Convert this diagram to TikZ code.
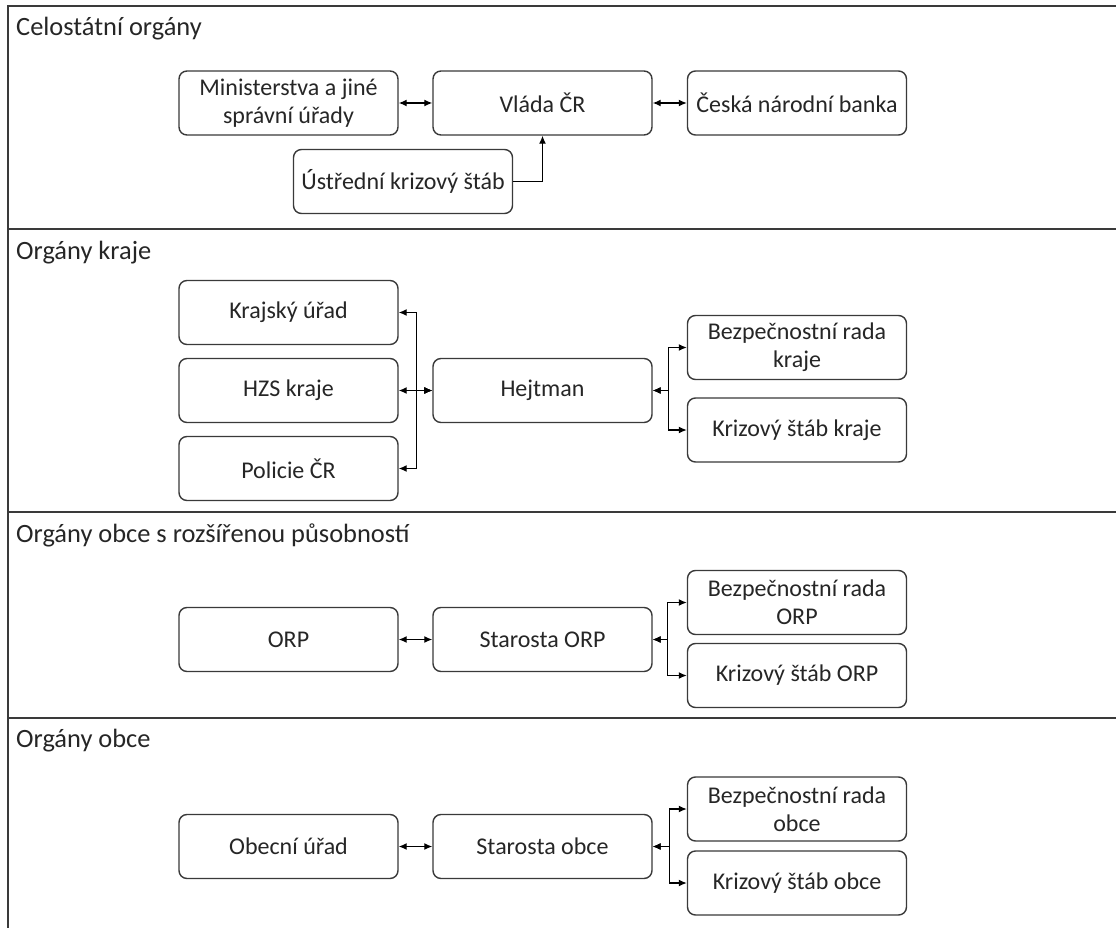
\documentclass[tikz,border=0pt]{standalone}
\usepackage{fontspec}
\setmainfont{Carlito}
\usetikzlibrary{arrows.meta}

\definecolor{ink}{HTML}{262626}
\definecolor{edge}{HTML}{3A3A3A}

\tikzset{
  box/.style={draw=edge, line width=1.4pt, rounded corners=8pt,
    minimum width=219pt, minimum height=64pt, inner sep=2pt,
    align=center, text=ink,
    font=\fontsize{24}{28}\selectfont},
  head/.style={anchor=base west, inner sep=0pt, text=ink,
    font=\fontsize{26.4}{30}\selectfont},
  frame/.style={draw=edge, line width=2pt},
  link/.style={draw=black, line width=1.3pt},
  tip/.tip={Latex[length=8pt,width=7pt]},
  both/.style={link, tip-tip},
  to/.style={link, -tip}
}

\begin{document}
\begin{tikzpicture}[x=1pt, y=-1pt]
\useasboundingbox (0,0) rectangle (1116,928);
\fill[white] (0,0) rectangle (1116,928);

% frame and band dividers
\draw[frame] (8,928) -- (8,6) -- (1116,6);
\draw[frame] (8,229) -- (1116,229);
\draw[frame] (8,512) -- (1116,512);
\draw[frame] (8,718) -- (1116,718);

% band titles
\node[head] (h1) at (16,36) {Celostátní orgány};
\node[head] (h2) at (16,259) {Orgány kraje};
\node[head] (h3) at (16,542) {Orgány obce s rozšířenou působností};
\node[head] (h4) at (16,747) {Orgány obce};

% national level
\node[box] (min)  at (288.5,103)  {Ministerstva a jiné\\správní úřady};
\node[box] (vlada) at (542.5,103) {Vláda ČR};
\node[box] (cnb)  at (797,103)    {Česká národní banka};
\node[box] (uks)  at (403,181.5)  {Ústřední krizový štáb};
\draw[both] (min) -- (vlada);
\draw[both] (vlada) -- (cnb);
\draw[to] (uks.east) -| (vlada.south);

% region level
\node[box] (kru)  at (288.5,312.5) {Krajský úřad};
\node[box] (hzs)  at (288.5,390.5) {HZS kraje};
\node[box] (pol)  at (288.5,468.5) {Policie ČR};
\node[box] (hejt) at (542.5,390.5) {Hejtman};
\node[box] (brk)  at (797,347.5)   {Bezpečnostní rada\\kraje};
\node[box] (ksk)  at (797,430)     {Krizový štáb kraje};
\draw[both] (hejt.west) -- (hzs.east);
\draw[both] (hejt.west) -- ++(-16,0) |- (kru.east);
\draw[both] (hejt.west) -- ++(-16,0) |- (pol.east);
\draw[both] (hejt.east) -- ++(16,0) |- (brk.west);
\draw[both] (hejt.east) -- ++(16,0) |- (ksk.west);

% municipality with extended powers
\node[box] (orp)  at (288.5,639.5) {ORP};
\node[box] (sorp) at (542.5,639.5) {Starosta ORP};
\node[box] (borp) at (797,602.5)   {Bezpečnostní rada\\ORP};
\node[box] (korp) at (797,675.5)   {Krizový štáb ORP};
\draw[both] (orp) -- (sorp);
\draw[both] (sorp.east) -- ++(15,0) |- (borp.west);
\draw[both] (sorp.east) -- ++(15,0) |- (korp.west);

% municipality
\node[box] (obu)  at (288.5,846.5) {Obecní úřad};
\node[box] (sob)  at (542.5,846.5) {Starosta obce};
\node[box] (bob)  at (797,809)     {Bezpečnostní rada\\obce};
\node[box] (kob)  at (797,883)     {Krizový štáb obce};
\draw[both] (obu) -- (sob);
\draw[both] (sob.east) -- ++(17,0) |- (bob.west);
\draw[both] (sob.east) -- ++(17,0) |- (kob.west);
\end{tikzpicture}
\end{document}
